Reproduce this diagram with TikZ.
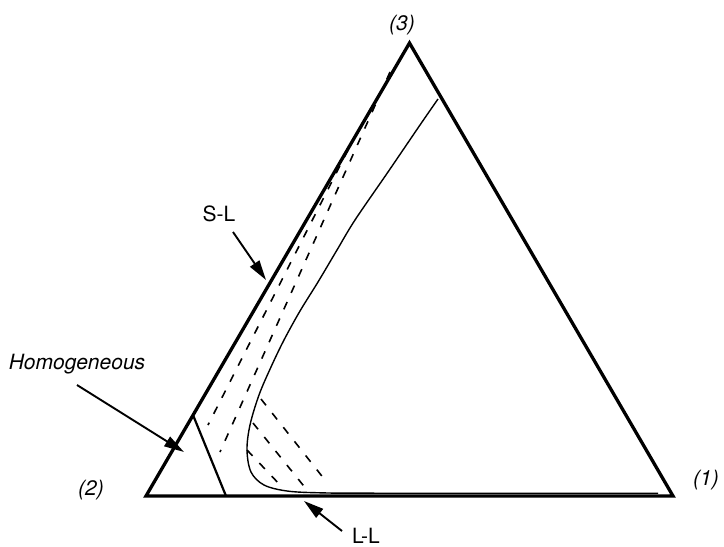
\documentclass[tikz,border=0pt]{standalone}
\usepackage{fontspec}
\setmainfont{TeX Gyre Heros}
\usetikzlibrary{arrows.meta}
\begin{document}
\begin{tikzpicture}[x=1pt,y=-1pt,
  edge/.style={line width=3.3pt,line join=miter},
  binodal/.style={line width=1.4pt},
  tie/.style={line width=1.6pt,dash pattern=on 8pt off 10pt},
  lbl/.style={inner sep=0pt,font=\fontsize{21}{25}\selectfont},
  pointer/.style={line width=1.9pt,-{Triangle[length=20pt,width=11pt]}}]
\useasboundingbox (0,0) rectangle (724,547);
% triangle vertices
\coordinate (v2) at (146,496);
\coordinate (v1) at (673,496);
\coordinate (v3) at (409.5,43);
\draw[edge] (v2) -- (v1) -- (v3) -- cycle;
% homogeneous boundary
\draw[line width=2.2pt] (193,415) -- (226,496);
% binodal curve
\draw[binodal] plot[smooth,tension=0.55] coordinates {
  (438,99) (420,125) (388,172) (355,220) (337,250) (318,282) (300,311)
  (284,340) (271,367) (259,395) (250,425) (247,450) (251,472) (264,485)
  (287,491) (320,492.8) (380,493.2) (658,493.2)};
% tie lines (S-L region)
\draw[tie] (348,150) -- (208,425);
\draw[tie] (390,72) -- (220,452);
% tie lines (L-L region)
\draw[tie] (261,399) -- (325,480);
\draw[tie] (253,423) -- (307,490);
\draw[tie] (247,450) -- (282,487);
% labels
\node[lbl] (t3) at (402,25) {\itshape (3)};
\node[lbl] (t2) at (91,490) {\itshape (2)};
\node[lbl] (t1) at (706,480) {\itshape (1)};
\node[lbl] (hom) at (77,364) {\itshape Homogeneous};
\node[lbl] (sl) at (219,214) {S-L};
\node[lbl] (ll) at (366,536) {L-L};
% arrow end points
\coordinate (homtail) at (77,385);
\coordinate (homtip) at (184,452);
\coordinate (sltail) at (233,232);
\coordinate (sltip) at (266,280);
\coordinate (lltail) at (342,531);
\coordinate (lltip) at (304,501);
\draw[pointer] (homtail) -- (homtip);
\draw[pointer] (sltail) -- (sltip);
\draw[pointer] (lltail) -- (lltip);
\end{tikzpicture}
\end{document}
